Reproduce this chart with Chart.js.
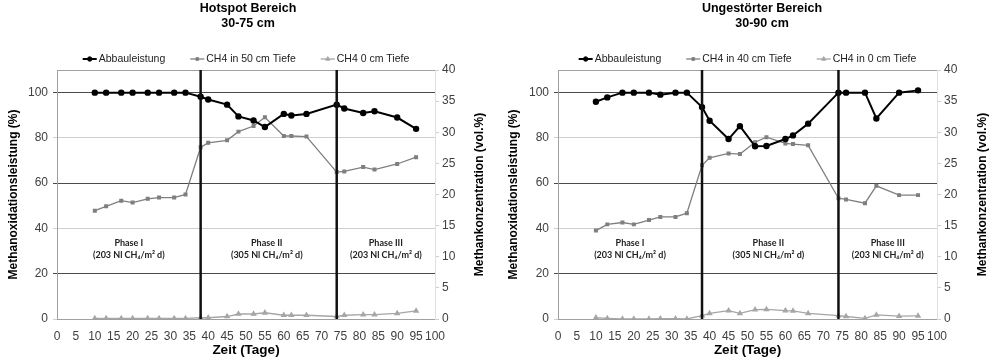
<!DOCTYPE html>
<html>
<head>
<meta charset="utf-8">
<script src="https://cdn.jsdelivr.net/npm/chart.js@4.4.0/dist/chart.umd.min.js"></script>
<style>
  html, body { margin: 0; padding: 0; background: #fff; }
  .box { position: absolute; top: 0; height: 361px; }
  #left { left: 0; width: 496px; }
  #right { left: 496px; width: 497px; }
</style>
</head>
<body>
<div class="box" id="left"><canvas id="hotspot"></canvas></div>
<div class="box" id="right"><canvas id="ungestoert"></canvas></div>
<script>
// Messtage (Zeit in Tagen)
const days = [10, 13, 17, 20, 24, 27, 31, 34, 38, 40, 45, 48, 52, 55, 60, 62, 66, 74, 76, 81, 84, 90, 95];

// Hotspot Bereich 30-75 cm
const hotTitle = ['Hotspot Bereich', '30-75 cm'];
const hotLabels = ['Abbauleistung', 'CH4 in 50 cm Tiefe', 'CH4 0 cm Tiefe'];
const hotAbbau = [100, 100, 100, 100, 100, 100, 100, 100, 98.2, 97, 94.7, 89.5, 87.7, 84.8, 90.6, 89.9, 90.6, 94.7, 93, 91, 91.8, 89, 84];
const hotCh4Deep = [17.4, 18.1, 19.0, 18.7, 19.3, 19.5, 19.5, 20.0, 27.6, 28.3, 28.7, 30.1, 31.0, 32.4, 29.4, 29.4, 29.3, 23.6, 23.7, 24.4, 24.0, 24.9, 26.0];
const hotCh4Surf = [0.1, 0.1, 0.1, 0.1, 0.1, 0.1, 0.1, 0.1, 0.2, 0.2, 0.4, 0.8, 0.8, 1.0, 0.6, 0.6, 0.6, 0.4, 0.6, 0.7, 0.7, 0.9, 1.3];

// Ungestoerter Bereich 30-90 cm
const undTitle = ['Ungestörter Bereich', '30-90 cm'];
const undLabels = ['Abbauleistung', 'CH4 in 40 cm Tiefe', 'CH4 in 0 cm Tiefe'];
const undAbbau = [96, 97.9, 100, 100, 100, 99.1, 100, 100, 93.6, 87.6, 79.5, 85.2, 76.3, 76.4, 79.5, 81.1, 86.3, 100, 100, 100, 88.6, 100, 101];
const undCh4Deep = [14.2, 15.2, 15.5, 15.2, 15.9, 16.4, 16.4, 17.0, 24.7, 25.9, 26.6, 26.5, 28.4, 29.2, 28.2, 28.1, 27.9, 19.4, 19.2, 18.6, 21.4, 19.9, 19.9];
const undCh4Surf = [0.2, 0.1, 0, 0, 0, 0.05, 0.05, 0, 0.55, 0.9, 1.35, 0.9, 1.5, 1.55, 1.35, 1.3, 0.9, 0.55, 0.4, 0.1, 0.65, 0.45, 0.5];

// Phasen
const phaseBounds = [38, 74];
const phaseNames = ['Phase I', 'Phase II', 'Phase III'];
const phaseLoads = ['(203 Nl CH₄/m² d)', '(305 Nl CH₄/m² d)', '(203 Nl CH₄/m² d)'];
const phaseCenters = [19, 55.5, 87];

const rightAxisTitle = 'Methankonzentration (vol.%)';

const FONT = '"Liberation Sans", Arial, sans-serif';

// draws title, top border, phase lines, phase labels, legend, right axis title
const decoPlugin = {
  id: 'deco',
  afterDatasetsDraw(chart, args, opts) {
    const { ctx, chartArea: a, scales: { x, y, y2 } } = chart;
    ctx.save();

    // chart title
    ctx.fillStyle = '#000';
    ctx.textAlign = 'center';
    ctx.textBaseline = 'middle';
    ctx.font = 'bold 12.5px ' + FONT;
    opts.title.forEach((t, i) => ctx.fillText(t, opts.titleX, 9 + i * 15));

    ctx.strokeStyle = '#a0a0a0';
    ctx.lineWidth = 1;
    ctx.beginPath();
    ctx.moveTo(a.left, a.top + 0.5);
    ctx.lineTo(a.right, a.top + 0.5);
    ctx.stroke();

    ctx.strokeStyle = '#111';
    ctx.lineWidth = 2.5;
    phaseBounds.forEach(d => {
      const px = x.getPixelForValue(d);
      ctx.beginPath();
      ctx.moveTo(px, a.top);
      ctx.lineTo(px, a.bottom);
      ctx.stroke();
    });

    ctx.fillStyle = '#222';
    ctx.font = 'bold 9px Lato, "DejaVu Sans", sans-serif';
    phaseCenters.forEach((d, i) => {
      const px = x.getPixelForValue(d);
      ctx.fillText(phaseNames[i], px, y.getPixelForValue(33.5));
      ctx.fillText(phaseLoads[i], px, y.getPixelForValue(28.3));
    });

    // right axis title, reading bottom to top
    ctx.save();
    ctx.fillStyle = '#000';
    ctx.font = 'bold 12px ' + FONT;
    ctx.translate(y2.right - opts.rightTitleOffset, (a.top + a.bottom) / 2);
    ctx.rotate(-Math.PI / 2);
    ctx.fillText(rightAxisTitle, 0, 0);
    ctx.restore();

    // legend
    const ly = 59;
    ctx.font = '10.5px ' + FONT;
    ctx.textAlign = 'left';
    const lineW = 14, gapText = 2, gapItem = 25;
    const items = chart.data.datasets.map(ds => ({ ds, w: ctx.measureText(ds.label).width }));
    const total = items.reduce((s, it) => s + lineW + gapText + it.w, 0) + gapItem * (items.length - 1);
    let lx = (a.left + a.right) / 2 - total / 2;
    items.forEach(it => {
      const ds = it.ds;
      ctx.strokeStyle = ds.borderColor;
      ctx.fillStyle = ds.borderColor;
      ctx.lineWidth = ds.borderWidth;
      ctx.beginPath();
      ctx.moveTo(lx, ly);
      ctx.lineTo(lx + lineW, ly);
      ctx.stroke();
      ctx.lineWidth = 1;
      Chart.helpers.drawPoint(ctx, { pointStyle: ds.pointStyle, radius: ds.pointRadius, rotation: 0, borderWidth: 1 }, lx + lineW / 2, ly);
      ctx.fillStyle = '#222';
      ctx.fillText(ds.label, lx + lineW + gapText, ly);
      lx += lineW + gapText + it.w + gapItem;
    });

    ctx.restore();
  }
};

function makeChart(id, title, labels, abbau, ch4Deep, ch4Surf, lay) {
  const pts = vals => days.map((d, i) => ({ x: d, y: vals[i] }));
  return new Chart(document.getElementById(id), {
    type: 'line',
    data: {
      datasets: [
        {
          label: labels[0], data: pts(abbau), yAxisID: 'y',
          borderColor: '#000', backgroundColor: '#000', borderWidth: 2,
          pointStyle: 'circle', pointRadius: 2.2
        },
        {
          label: labels[1], data: pts(ch4Deep), yAxisID: 'y2',
          borderColor: '#7f7f7f', backgroundColor: '#7f7f7f', borderWidth: 1.3,
          pointStyle: 'rect', pointRadius: 1.9
        },
        {
          label: labels[2], data: pts(ch4Surf), yAxisID: 'y2',
          borderColor: '#a6a6a6', backgroundColor: '#a6a6a6', borderWidth: 1.3,
          pointStyle: 'triangle', pointRadius: 2.4
        }
      ]
    },
    options: {
      responsive: true,
      maintainAspectRatio: false,
      animation: false,
      devicePixelRatio: 1,
      layout: { padding: { top: 70 } },
      plugins: {
        legend: { display: false },
        tooltip: { enabled: false },
        title: { display: false },
        deco: { title: title, titleX: lay.titleX, rightTitleOffset: lay.rightOff }
      },
      scales: {
        x: {
          type: 'linear', min: 0, max: 100,
          ticks: { stepSize: 5, autoSkip: false, maxRotation: 0, padding: 2, color: '#404040', font: { family: FONT, size: 12 } },
          grid: { display: false },
          border: { color: '#a0a0a0' },
          title: { display: true, text: 'Zeit (Tage)', color: '#000', font: { family: FONT, size: 13.5, weight: 'bold' }, padding: { top: 0, bottom: 3 } },
          afterFit: s => { s.height = 42; }
        },
        y: {
          position: 'left', min: 0, max: 110,
          ticks: { stepSize: 20, padding: 5, color: '#404040', font: { family: FONT, size: 12 } },
          afterBuildTicks: s => { s.ticks = s.ticks.filter(t => t.value <= 100); },
          grid: {
            color: c => (c.tick && c.tick.value % 40 === 20) ? '#4a4a4a' : '#cfcfcf',
            tickLength: 4
          },
          border: { color: '#a0a0a0' },
          title: { display: true, text: 'Methanoxidationsleistung (%)', color: '#000', font: { family: FONT, size: 12, weight: 'bold' }, padding: { top: lay.leftPad, bottom: 0 } },
          afterFit: s => { s.width = lay.leftW; }
        },
        y2: {
          position: 'right', min: 0, max: 40,
          ticks: { stepSize: 5, padding: 3, color: '#404040', font: { family: FONT, size: 12 } },
          grid: { drawOnChartArea: false, color: '#cfcfcf', tickLength: 4 },
          border: { color: '#e0e0e0' },
          afterFit: s => { s.width = lay.rightW; }
        }
      }
    },
    plugins: [decoPlugin]
  });
}

makeChart('hotspot', hotTitle, hotLabels, hotAbbau, hotCh4Deep, hotCh4Surf,
  { leftW: 57, rightW: 61, leftPad: 6.8, rightOff: 16, titleX: 248 });
makeChart('ungestoert', undTitle, undLabels, undAbbau, undCh4Deep, undCh4Surf,
  { leftW: 62, rightW: 56, leftPad: 10.8, rightOff: 10, titleX: 266 });
</script>
</body>
</html>
